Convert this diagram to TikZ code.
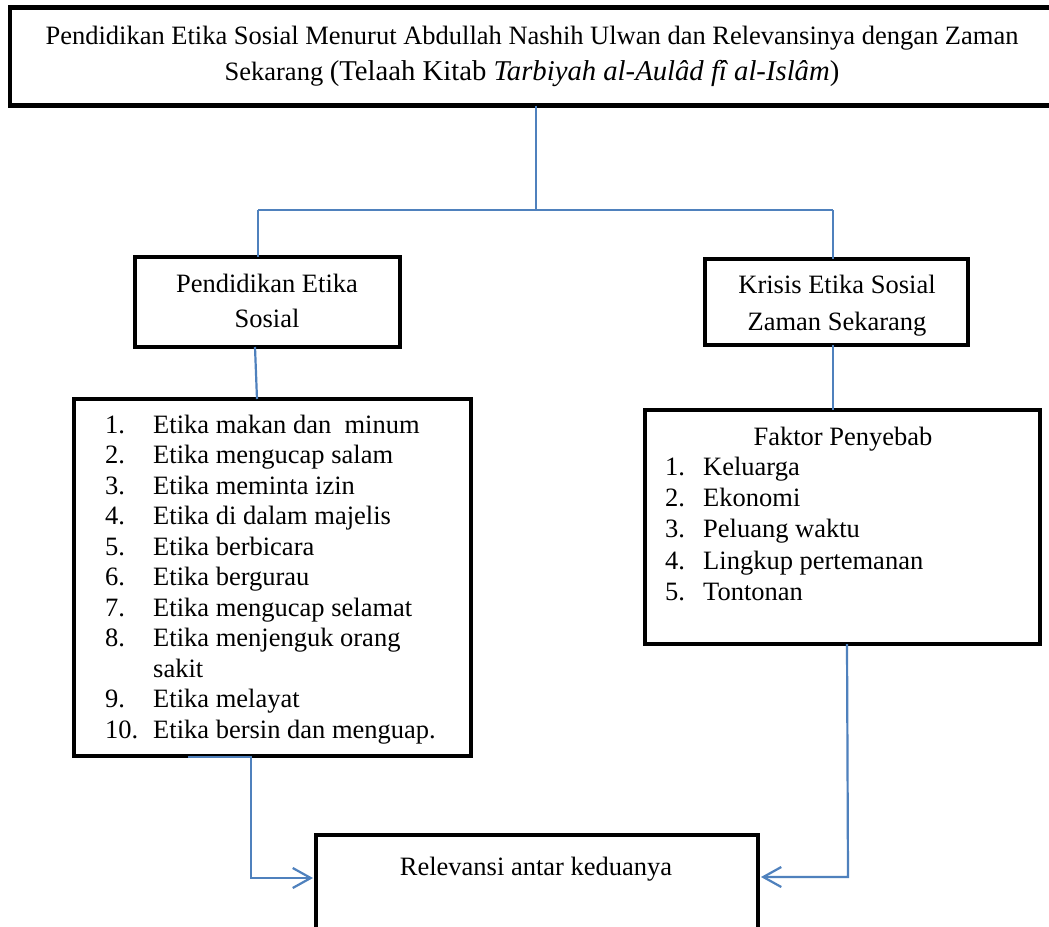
\documentclass[tikz,border=0pt]{standalone}
\usepackage{fontspec}
\setmainfont{Liberation Serif}
\usetikzlibrary{arrows.meta}
\definecolor{lnblue}{HTML}{4F81BD}
\begin{document}
\begin{tikzpicture}[x=1pt,y=-1pt,
  box/.style={draw=black, line width=4.5pt, rectangle, inner sep=0pt, outer sep=0pt, fill=white},
  conn/.style={draw=lnblue, line width=2.2pt},
  arr/.style={conn, -{Straight Barb[length=18pt,width=20pt,line width=2.2pt]}},
  txt/.style={font=\fontsize{26.5}{30.5}\selectfont, anchor=base, inner sep=0pt},
  lnum/.style={txt, anchor=base west},
  ltxt/.style={txt, anchor=base west}]
\useasboundingbox (0,0) rectangle (1049,926);
\clip (0,0) rectangle (1049,926);
\fill[white] (0,0) rectangle (1049,926);

% boxes
\node[box, minimum width=1055pt, minimum height=98pt] (title) at (537.5,56.5) {};
\node[box, minimum width=265pt, minimum height=90pt] (pes) at (267.5,302) {};
\node[box, minimum width=397pt, minimum height=357pt] (listL) at (272.5,577.5) {};
\node[box, minimum width=263pt, minimum height=86pt] (kes) at (836.5,302) {};
\node[box, minimum width=395pt, minimum height=234pt] (listR) at (842.5,527) {};
\node[box, minimum width=442pt, minimum height=100pt] (rel) at (537,885) {};

% title text
\node[txt] (t1) at (532,44) {Pendidikan Etika Sosial Menurut Abdullah Nashih Ulwan dan Relevansinya dengan Zaman};
\node[txt] (t2) at (532,80) {Sekarang {\fontsize{28.7}{33}\selectfont(Telaah Kitab \textit{Tarbiyah al-Aulâd fî al-Islâm})}};

% second level texts
\node[txt] (p1) at (267,292) {Pendidikan Etika};
\node[txt] (p2) at (267,327) {Sosial};
\node[txt] (k1) at (837,293) {Krisis Etika Sosial};
\node[txt] (k2) at (837,330) {Zaman Sekarang};

% left list
\node[lnum] (n1) at (105,433) {1.};   \node[ltxt] (e1) at (153,433) {Etika makan dan \ minum};
\node[lnum] (n2) at (105,463.5) {2.}; \node[ltxt] (e2) at (153,463.5) {Etika mengucap salam};
\node[lnum] (n3) at (105,494) {3.};   \node[ltxt] (e3) at (153,494) {Etika meminta izin};
\node[lnum] (n4) at (105,524.5) {4.}; \node[ltxt] (e4) at (153,524.5) {Etika di dalam majelis};
\node[lnum] (n5) at (105,555) {5.};   \node[ltxt] (e5) at (153,555) {Etika berbicara};
\node[lnum] (n6) at (105,585.5) {6.}; \node[ltxt] (e6) at (153,585.5) {Etika bergurau};
\node[lnum] (n7) at (105,616) {7.};   \node[ltxt] (e7) at (153,616) {Etika mengucap selamat};
\node[lnum] (n8) at (105,646.5) {8.}; \node[ltxt] (e8) at (153,646.5) {Etika menjenguk orang};
\node[ltxt] (e8b) at (153,677) {sakit};
\node[lnum] (n9) at (105,707.5) {9.}; \node[ltxt] (e9) at (153,707.5) {Etika melayat};
\node[lnum] (n10) at (105,738) {10.}; \node[ltxt] (e10) at (153,738) {Etika bersin dan menguap.};

% right list
\node[txt] (fp) at (843,445) {Faktor Penyebab};
\node[lnum] (m1) at (665,475) {1.}; \node[ltxt] (f1) at (703,475) {Keluarga};
\node[lnum] (m2) at (665,506) {2.}; \node[ltxt] (f2) at (703,506) {Ekonomi};
\node[lnum] (m3) at (665,537.5) {3.}; \node[ltxt] (f3) at (703,537.5) {Peluang waktu};
\node[lnum] (m4) at (665,569) {4.}; \node[ltxt] (f4) at (703,569) {Lingkup pertemanan};
\node[lnum] (m5) at (665,600) {5.}; \node[ltxt] (f5) at (703,600) {Tontonan};

% bottom text
\node[txt] (rt) at (536,875) {Relevansi antar keduanya};

% connector coordinates
\coordinate (tb) at (536,105.5);
\coordinate (jc) at (536,211);
\coordinate (jl) at (258,210);
\coordinate (jr) at (833,210);
\coordinate (pesb) at (255,347);
\coordinate (lltop) at (257,399);
\coordinate (kesb) at (833,345);
\coordinate (lrtop) at (833,410);
\coordinate (llb) at (188,757);
\coordinate (llc) at (251,757);
\coordinate (lrb) at (847,644);
\coordinate (lrc) at (848,877);
\coordinate (rw) at (313,878);
\coordinate (re) at (761,877);

% connectors
\draw[conn] (tb) -- (jc);
\draw[conn] (jl) -- (jr);
\draw[conn] (jl) -- (pes.north -| jl);
\draw[conn] (jr) -- (kes.north -| jr);
\draw[conn] (pesb) -- (lltop);
\draw[conn] (kesb) -- (lrtop);
\draw[arr] (llb) -- (llc) |- (rw);
\draw[arr] (lrb) -- (lrc) -- (re);
\end{tikzpicture}
\end{document}
